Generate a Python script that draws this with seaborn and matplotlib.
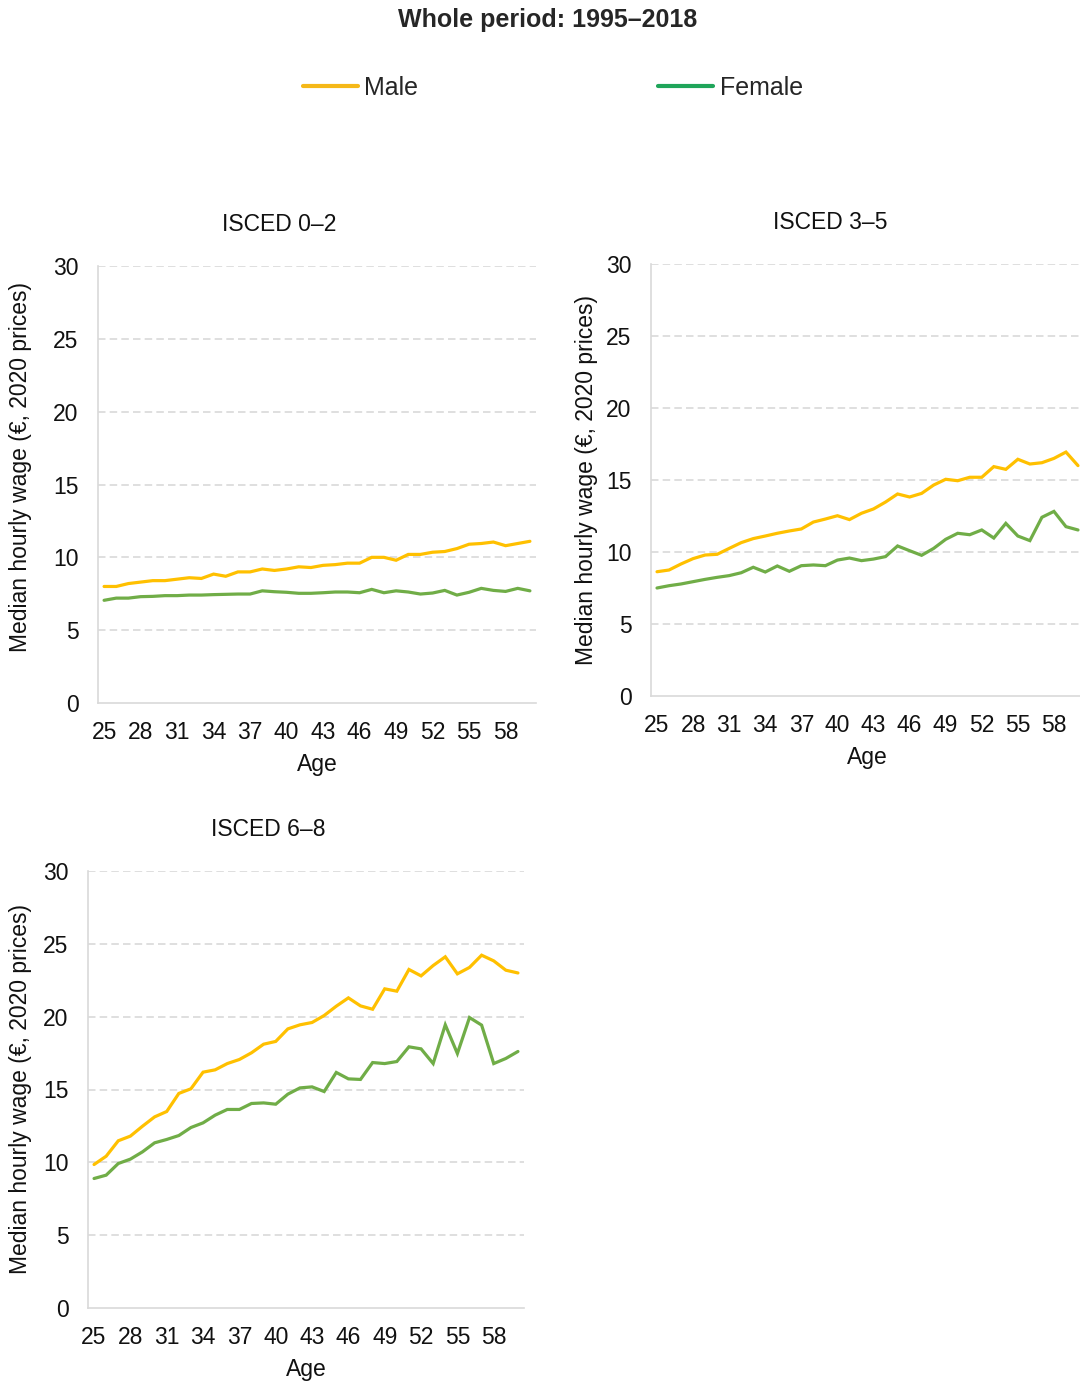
import numpy as np
import pandas as pd
import matplotlib
matplotlib.use("Agg")
import matplotlib.pyplot as plt
import seaborn as sns
from matplotlib.lines import Line2D

# Ages covered by every panel
ages = list(range(25, 61))

# Median hourly wage (EUR, 2020 prices) by age, ISCED 0-2
isced02_male = [8.0, 8.0, 8.2, 8.3, 8.4, 8.4, 8.5, 8.6, 8.55, 8.85, 8.7, 9.0, 9.0, 9.2, 9.1,
                9.2, 9.35, 9.3, 9.45, 9.5, 9.6, 9.6, 10.0, 10.0, 9.8, 10.2, 10.2, 10.35, 10.4,
                10.6, 10.9, 10.95, 11.05, 10.8, 10.95, 11.1]
isced02_female = [7.05, 7.2, 7.2, 7.3, 7.32, 7.37, 7.37, 7.41, 7.41, 7.44, 7.46, 7.48, 7.48,
                  7.7, 7.64, 7.6, 7.53, 7.53, 7.57, 7.62, 7.62, 7.57, 7.8, 7.57, 7.7, 7.62,
                  7.48, 7.55, 7.73, 7.41, 7.6, 7.87, 7.73, 7.66, 7.87, 7.7]

# ISCED 3-5
isced35_male = [8.63, 8.75, 9.17, 9.54, 9.79, 9.84, 10.25, 10.65, 10.93, 11.11, 11.3, 11.46,
                11.6, 12.08, 12.29, 12.52, 12.25, 12.69, 12.99, 13.47, 14.03, 13.82, 14.07,
                14.65, 15.05, 14.95, 15.19, 15.19, 15.93, 15.74, 16.44, 16.11, 16.2, 16.5,
                16.94, 16.0]
isced35_female = [7.5, 7.66, 7.78, 7.94, 8.1, 8.24, 8.36, 8.56, 8.94, 8.61, 9.03, 8.66, 9.05,
                  9.1, 9.05, 9.44, 9.58, 9.4, 9.51, 9.68, 10.42, 10.09, 9.77, 10.25, 10.88,
                  11.3, 11.2, 11.53, 10.97, 11.99, 11.11, 10.79, 12.41, 12.82, 11.76, 11.53]

# ISCED 6-8
isced68_male = [9.85, 10.42, 11.48, 11.8, 12.48, 13.12, 13.49, 14.73, 15.05, 16.19, 16.35,
                16.78, 17.06, 17.52, 18.11, 18.3, 19.16, 19.44, 19.6, 20.08, 20.72, 21.29,
                20.74, 20.51, 21.91, 21.75, 23.24, 22.8, 23.51, 24.11, 22.94, 23.38, 24.22,
                23.83, 23.19, 23.0]
isced68_female = [8.89, 9.12, 9.92, 10.22, 10.72, 11.34, 11.57, 11.84, 12.39, 12.71, 13.24,
                  13.63, 13.63, 14.04, 14.08, 13.99, 14.68, 15.11, 15.18, 14.86, 16.17, 15.73,
                  15.69, 16.85, 16.78, 16.92, 17.93, 17.79, 16.78, 19.44, 17.47, 19.94, 19.42,
                  16.78, 17.13, 17.61]

panel_titles = ["ISCED 0\u20132", "ISCED 3\u20135", "ISCED 6\u20138"]
sexes = ["Male", "Female"]
x_ticks = list(range(25, 59, 3))
y_ticks = [0, 5, 10, 15, 20, 25, 30]

line_colors = {"Male": "#FFC000", "Female": "#70AD47"}
legend_colors = {"Male": "#F5B818", "Female": "#1FA55A"}

sns.set_style("white")
plt.rcParams["font.family"] = ["Liberation Sans", "DejaVu Sans"]

fig = plt.figure(figsize=(10.8, 13.83), dpi=100)
W, H = 1080, 1383


def px_axes(left, top, right, bottom):
    return fig.add_axes([left / W, 1 - bottom / H, (right - left) / W, (bottom - top) / H])


panels = [
    dict(rect=(98, 266, 536, 703), male=isced02_male, female=isced02_female,
         title=panel_titles[0], ylab=(-0.151, 0.54)),
    dict(rect=(651, 264, 1084, 696), male=isced35_male, female=isced35_female,
         title=panel_titles[1], ylab=(-0.122, 0.5)),
    dict(rect=(88, 871, 524, 1308), male=isced68_male, female=isced68_female,
         title=panel_titles[2], ylab=(-0.128, 0.5)),
]

for p in panels:
    ax = px_axes(*p["rect"])
    df = pd.DataFrame({
        "Age": ages * 2,
        "Wage": p["male"] + p["female"],
        "Sex": ["Male"] * len(ages) + ["Female"] * len(ages),
    })
    sns.lineplot(data=df, x="Age", y="Wage", hue="Sex", hue_order=sexes,
                 palette=line_colors, linewidth=2.3, legend=False, ax=ax,
                 solid_joinstyle="miter", clip_on=False)
    ax.set_xlim(24.5, 60.5)
    ax.set_ylim(0, 30)
    ax.set_xticks(x_ticks)
    ax.set_yticks(y_ticks)
    ax.tick_params(axis="both", length=0, labelsize=16.5, colors="#111111")
    ax.tick_params(axis="y", pad=14)
    ax.tick_params(axis="x", pad=13)
    for yv in y_ticks[1:]:
        ax.axhline(yv, color="#D9D9D9", linewidth=1.2, linestyle=(0, (4.5, 2.5)), zorder=0)
    for side in ["top", "right"]:
        ax.spines[side].set_visible(False)
    for side in ["left", "bottom"]:
        ax.spines[side].set_color("#D9D9D9")
        ax.spines[side].set_linewidth(1.2)
    ax.set_ylabel("Median hourly wage (\u20ac, 2020 prices)", fontsize=16.5, color="#111111")
    ax.yaxis.set_label_coords(*p["ylab"])
    ax.set_xlabel("Age", fontsize=16.5, color="#111111")
    ax.xaxis.set_label_coords(0.5, -0.115)
    ax.text(0.414, 1.096, p["title"], transform=ax.transAxes, ha="center", va="center",
            fontsize=16.5, color="#111111")

fig.text(548 / W, 1 - 20 / H, "Whole period: 1995\u20132018", ha="center", va="center",
         fontsize=18, fontweight="bold", color="#262626")

handles = [Line2D([0], [0], color=legend_colors[s], linewidth=3) for s in sexes]
fig.legend(handles, sexes, loc="center", bbox_to_anchor=(553 / W, 1 - 88 / H), ncol=2,
           frameon=False, fontsize=18, handlelength=2.2, handletextpad=0.25,
           columnspacing=9.6, labelcolor="#262626")

fig.savefig("out.png", dpi=100)
